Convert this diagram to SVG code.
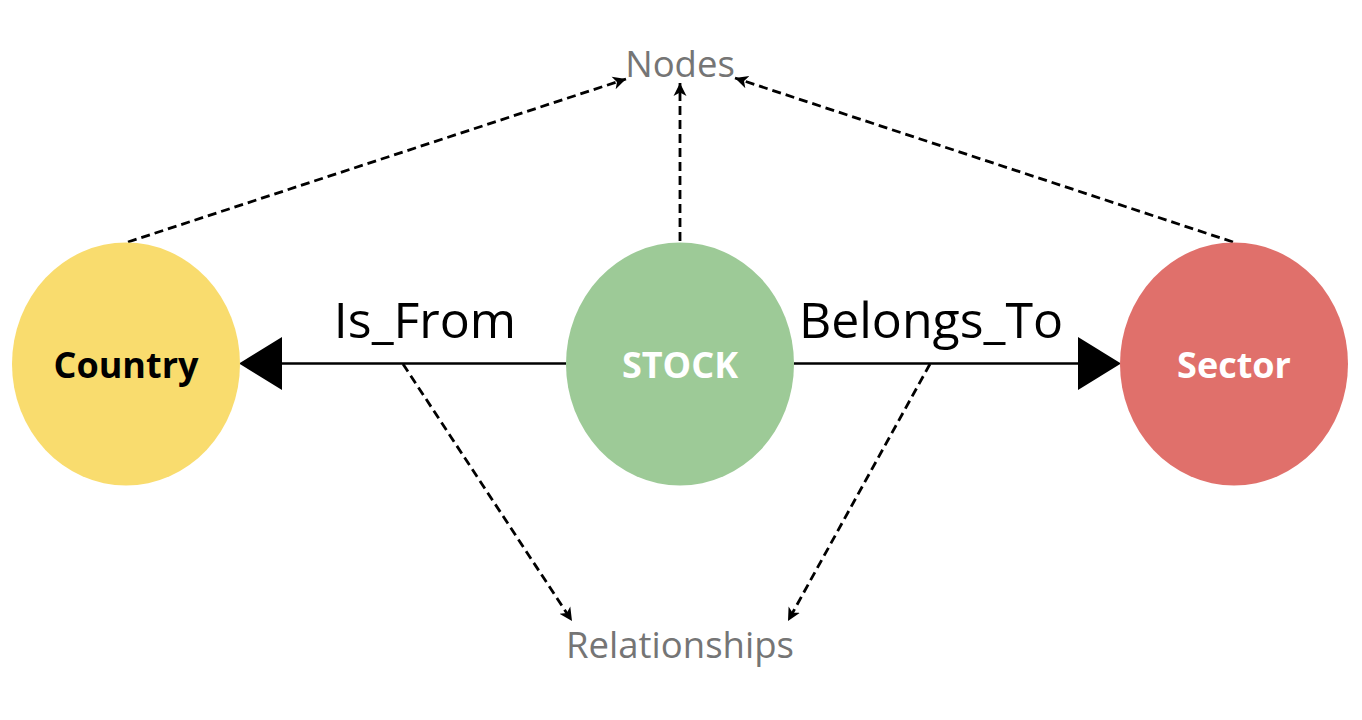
<svg xmlns="http://www.w3.org/2000/svg" width="1362" height="720" viewBox="0 0 1362 720">
<style>
.node-label{font-family:"Open Sans","Liberation Sans",sans-serif;font-weight:700;font-size:36px;text-anchor:middle}
.rel-label{font-family:"Open Sans","Liberation Sans",sans-serif;font-size:50px;text-anchor:middle;fill:#000}
.legend{font-family:"Open Sans","Liberation Sans",sans-serif;font-size:36.5px;text-anchor:middle;fill:#757575}
.solid{stroke:#000;stroke-width:2.5;fill:none}
.dashed{stroke:#000;stroke-width:2.8;fill:none;stroke-dasharray:9 5}
</style>
<defs>
<marker id="dashHead" markerUnits="userSpaceOnUse" markerWidth="16" markerHeight="16" viewBox="0 0 16 16" refX="13" refY="8" orient="auto">
<path d="M0,1.5 L13,8 L0,14.5 L3.5,8 Z" fill="#000"/>
</marker>
</defs>
<rect width="1362" height="720" fill="#fff"/>
<g id="connectors">
<line class="solid" x1="566" y1="363.5" x2="280" y2="363.5"/>
<polygon points="239,363.5 282,337 282,390" fill="#000"/>
<line class="solid" x1="794" y1="363.5" x2="1079" y2="363.5"/>
<polygon points="1121,363.5 1078,337 1078,390" fill="#000"/>
<line class="dashed" x1="128" y1="242" x2="626" y2="79" marker-end="url(#dashHead)"/>
<line class="dashed" x1="680" y1="241" x2="680" y2="83" marker-end="url(#dashHead)"/>
<line class="dashed" x1="1233" y1="242" x2="735" y2="78" marker-end="url(#dashHead)"/>
<line class="dashed" x1="403" y1="364" x2="572" y2="621" marker-end="url(#dashHead)"/>
<line class="dashed" x1="930" y1="364" x2="788" y2="621" marker-end="url(#dashHead)"/>
<text class="rel-label" x="425" y="338">Is_From</text>
<text class="rel-label" x="931" y="338">Belongs_To</text>
</g>
<g id="node-country">
<ellipse cx="126" cy="364" rx="114" ry="121.5" fill="#F9DC6E"/>
<text class="node-label" x="126" y="378" fill="#000">Country</text>
</g>
<g id="node-stock">
<ellipse cx="680" cy="364" rx="114" ry="121.5" fill="#9DCA97"/>
<text class="node-label" x="680" y="378" fill="#fff">STOCK</text>
</g>
<g id="node-sector">
<ellipse cx="1234" cy="364" rx="114" ry="121.5" fill="#E0706B"/>
<text class="node-label" x="1234" y="378" fill="#fff">Sector</text>
</g>
<g id="legend-nodes">
<text class="legend" x="680" y="77">Nodes</text>
</g>
<g id="legend-relationships">
<text class="legend" x="680" y="658">Relationships</text>
</g>
</svg>
